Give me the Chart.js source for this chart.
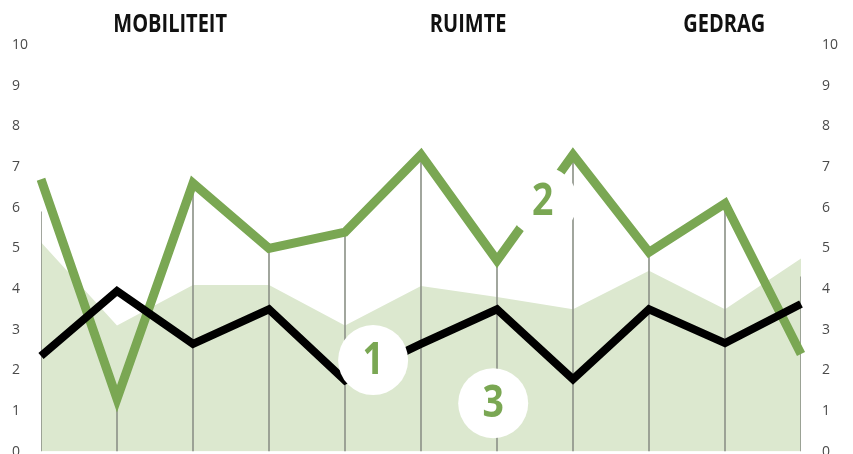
<!DOCTYPE html>
<html>
<head>
<meta charset="utf-8">
<script src="https://cdn.jsdelivr.net/npm/chart.js@4"></script>
<style>
  html, body { margin: 0; padding: 0; background: #fff; overflow: hidden; }
  #wrap { width: 853px; height: 460px; position: relative; }
</style>
</head>
<body>
<div id="wrap"><canvas id="grafiek"></canvas></div>
<script>
// punten langs de x-as (11 meetmomenten)
const punten = ["1", "2", "3", "4", "5", "6", "7", "8", "9", "10", "11"];

// lijn 1 (zwart), lijn 2 (groen), vlak 3 (lichtgroen)
const reeks1 = [2.35, 3.95, 2.65, 3.5, 1.75, 2.65, 3.5, 1.78, 3.5, 2.67, 3.63];
const reeks2 = [6.7, 1.3, 6.6, 5.0, 5.4, 7.3, 4.7, 7.3, 4.9, 6.1, 2.4];
const reeks3 = [5.15, 3.1, 4.1, 4.1, 3.1, 4.07, 3.8, 3.5, 4.45, 3.5, 4.75];

// hoogte van de dunne verticale hulplijnen
const hulplijnen = [5.9, 1.3, 6.6, 5.0, 5.4, 7.3, 4.7, 7.2, 4.9, 6.1, 4.3];

// kopjes boven de grafiek, positie als index langs de x-as
const kopjes = ["MOBILITEIT", "RUIMTE", "GEDRAG"];
const kopjesPos = [1.70, 5.62, 8.99];

// genummerde labels bij de reeksen: [tekst, index, waarde]
const nummers = [["1", 4.37, 2.25], ["2", 6.6, 6.15], ["3", 5.95, 1.19]];

const groen = "#7aa753";

const labelPlugin = {
  id: "labels",
  afterDatasetsDraw(chart) {
    const { ctx, scales: { x, y } } = chart;
    ctx.save();
    nummers.forEach(([t, xi, yv]) => {
      const px = x.getPixelForValue(xi);
      const py = y.getPixelForValue(yv);
      ctx.beginPath();
      ctx.arc(px, py, 35, 0, Math.PI * 2);
      ctx.fillStyle = "#ffffff";
      ctx.fill();
      ctx.fillStyle = groen;
      ctx.font = "bold 44px 'Open Sans', sans-serif";
      ctx.textAlign = "center";
      ctx.textBaseline = "middle";
      ctx.save();
      ctx.translate(px, py + 1);
      ctx.scale(0.85, 1);
      ctx.fillText(t, 0, 0);
      ctx.restore();
    });
    ctx.restore();
  },
  afterDraw(chart) {
    const { ctx, scales: { x }, chartArea } = chart;
    ctx.save();
    ctx.fillStyle = "#111";
    ctx.font = "bold 25px 'Open Sans', sans-serif";
    ctx.textAlign = "center";
    ctx.textBaseline = "middle";
    kopjes.forEach((k, i) => {
      ctx.save();
      ctx.translate(x.getPixelForValue(kopjesPos[i]), chartArea.top - 20);
      ctx.scale(0.8, 1);
      ctx.fillText(k, 0, 0);
      ctx.restore();
    });
    ctx.restore();
  }
};

const tickOpts = {
  color: "#4a4a4a",
  font: { family: "'Open Sans', sans-serif", size: 14 },
  stepSize: 1,
  padding: 0
};

const gridOpts = {
  display: true,
  drawOnChartArea: false,
  drawTicks: true,
  tickLength: 21,
  tickColor: "rgba(0,0,0,0)"
};

new Chart(document.getElementById("grafiek"), {
  type: "line",
  data: {
    labels: punten,
    datasets: [
      {
        label: "1",
        data: reeks1,
        borderColor: "#000",
        borderWidth: 8,
        borderJoinStyle: "miter",
        pointRadius: 0,
        tension: 0,
        fill: false,
        order: 1
      },
      {
        label: "2",
        data: reeks2,
        borderColor: groen,
        borderWidth: 9,
        borderJoinStyle: "miter",
        pointRadius: 0,
        tension: 0,
        fill: false,
        order: 2
      },
      {
        type: "bar",
        label: "hulplijnen",
        data: hulplijnen,
        backgroundColor: "#8f948a",
        barThickness: 1,
        order: 3
      },
      {
        label: "3",
        data: reeks3,
        borderWidth: 0,
        backgroundColor: "#dce8cf",
        pointRadius: 0,
        tension: 0,
        fill: "origin",
        order: 4
      }
    ]
  },
  options: {
    responsive: true,
    maintainAspectRatio: false,
    animation: false,
    layout: { padding: { top: 45, bottom: 4, left: 12, right: 0 } },
    plugins: {
      legend: { display: false },
      tooltip: { enabled: false }
    },
    scales: {
      x: { display: false, offset: false },
      y: {
        position: "left",
        min: 0, max: 10,
        grid: { ...gridOpts, tickLength: 0, drawTicks: false },
        border: { display: false },
        ticks: { ...tickOpts, crossAlign: "far" },
        afterFit(s) { s.width = 29; }
      },
      y2: {
        position: "right",
        min: 0, max: 10,
        grid: gridOpts,
        border: { display: false },
        ticks: { ...tickOpts, crossAlign: "near" },
        afterFit(s) { s.width = 52; }
      }
    }
  },
  plugins: [labelPlugin]
});
</script>
</body>
</html>
